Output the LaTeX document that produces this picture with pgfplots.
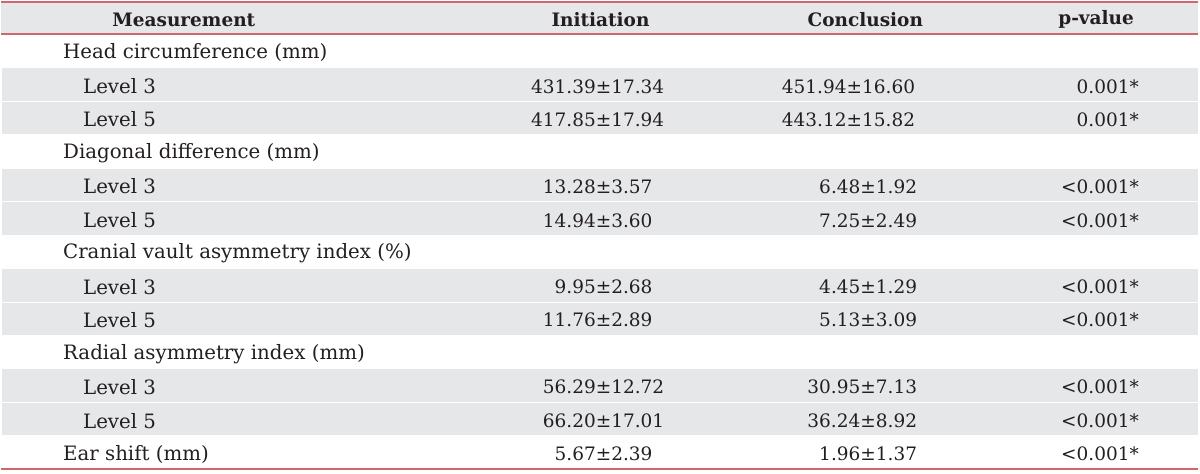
\documentclass[border=0pt]{standalone}
\usepackage{pgfplots}
\pgfplotsset{compat=1.18}
\usepackage{fontspec}
\setmainfont{DejaVu Serif}
\definecolor{rowgray}{HTML}{E6E7E8}
\definecolor{rulered}{HTML}{D0676C}
\definecolor{txt}{HTML}{231F20}
\begin{document}
\begin{tikzpicture}[every node/.style={inner sep=0pt, text=txt, yshift=-1.5pt, font=\fontsize{18.5}{22}\selectfont},
  lab/.style={anchor=west, font=\fontsize{19.8}{23}\selectfont},
  hd/.style={font=\fontsize{18.5}{22}\selectfont\bfseries}]
\begin{axis}[
  width=1200pt, height=474pt, scale only axis,
  xmin=0, xmax=1200, ymin=0, ymax=474, y dir=reverse,
  axis lines=none, clip=false,
]
\addplot[draw=none] coordinates {(0,0) (1200,474)};
% header band
\fill[rowgray] (axis cs:0,2) rectangle (axis cs:1198,34);
% gray rows (Level rows)
\pgfplotsinvokeforeach{67.5,101,168,201.5,268.5,302,369,402.5}{
  \fill[rowgray] (axis cs:1,#1+0.8) rectangle (axis cs:1198,#1+33.3);
}
\draw[rulered, line width=2pt] (axis cs:0,2) -- (axis cs:1198,2);
\draw[rulered, line width=2pt] (axis cs:0,34) -- (axis cs:1198,34);
\draw[rulered, line width=1.6pt] (axis cs:0,469.5) -- (axis cs:1198,469.5);
% header
\node[hd] at (axis cs:183,18) {Measurement};
\node[hd] at (axis cs:600,18) {Initiation};
\node[hd] at (axis cs:865,18) {Conclusion};
\node[hd] at (axis cs:1096,18) {p-value};
% rows: label column
\node[lab] at (axis cs:62,51) {Head circumference (mm)};
\node[lab] at (axis cs:82,85) {Level 3};
\node[lab] at (axis cs:82,118) {Level 5};
\node[lab] at (axis cs:62,152) {Diagonal difference (mm)};
\node[lab] at (axis cs:82,185) {Level 3};
\node[lab] at (axis cs:82,219) {Level 5};
\node[lab] at (axis cs:62,252) {Cranial vault asymmetry index (\%)};
\node[lab] at (axis cs:82,286) {Level 3};
\node[lab] at (axis cs:82,319) {Level 5};
\node[lab] at (axis cs:62,353) {Radial asymmetry index (mm)};
\node[lab] at (axis cs:82,386) {Level 3};
\node[lab] at (axis cs:82,420) {Level 5};
\node[lab] at (axis cs:62,453) {Ear shift (mm)};
% Initiation
\node[anchor=east] at (axis cs:664,85) {431.39±17.34};
\node[anchor=east] at (axis cs:664,118) {417.85±17.94};
\node[anchor=east] at (axis cs:664,185) {13.28±3.57\phantom{0}};
\node[anchor=east] at (axis cs:664,219) {14.94±3.60\phantom{0}};
\node[anchor=east] at (axis cs:664,286) {9.95±2.68\phantom{0}};
\node[anchor=east] at (axis cs:664,319) {11.76±2.89\phantom{0}};
\node[anchor=east] at (axis cs:664,386) {56.29±12.72};
\node[anchor=east] at (axis cs:664,420) {66.20±17.01};
\node[anchor=east] at (axis cs:664,453) {5.67±2.39\phantom{0}};
% Conclusion
\node[anchor=east] at (axis cs:915,85) {451.94±16.60};
\node[anchor=east] at (axis cs:915,118) {443.12±15.82};
\node[anchor=east] at (axis cs:917,185) {6.48±1.92};
\node[anchor=east] at (axis cs:917,219) {7.25±2.49};
\node[anchor=east] at (axis cs:917,286) {4.45±1.29};
\node[anchor=east] at (axis cs:917,319) {5.13±3.09};
\node[anchor=east] at (axis cs:917,386) {30.95±7.13};
\node[anchor=east] at (axis cs:917,420) {36.24±8.92};
\node[anchor=east] at (axis cs:917,453) {1.96±1.37};
% p-values
\node[anchor=east] at (axis cs:1139,85) {0.001*};
\node[anchor=east] at (axis cs:1139,118) {0.001*};
\node[anchor=east] at (axis cs:1139,185) {<0.001*};
\node[anchor=east] at (axis cs:1139,219) {<0.001*};
\node[anchor=east] at (axis cs:1139,286) {<0.001*};
\node[anchor=east] at (axis cs:1139,319) {<0.001*};
\node[anchor=east] at (axis cs:1139,386) {<0.001*};
\node[anchor=east] at (axis cs:1139,420) {<0.001*};
\node[anchor=east] at (axis cs:1139,453) {<0.001*};
\end{axis}
\end{tikzpicture}
\end{document}
